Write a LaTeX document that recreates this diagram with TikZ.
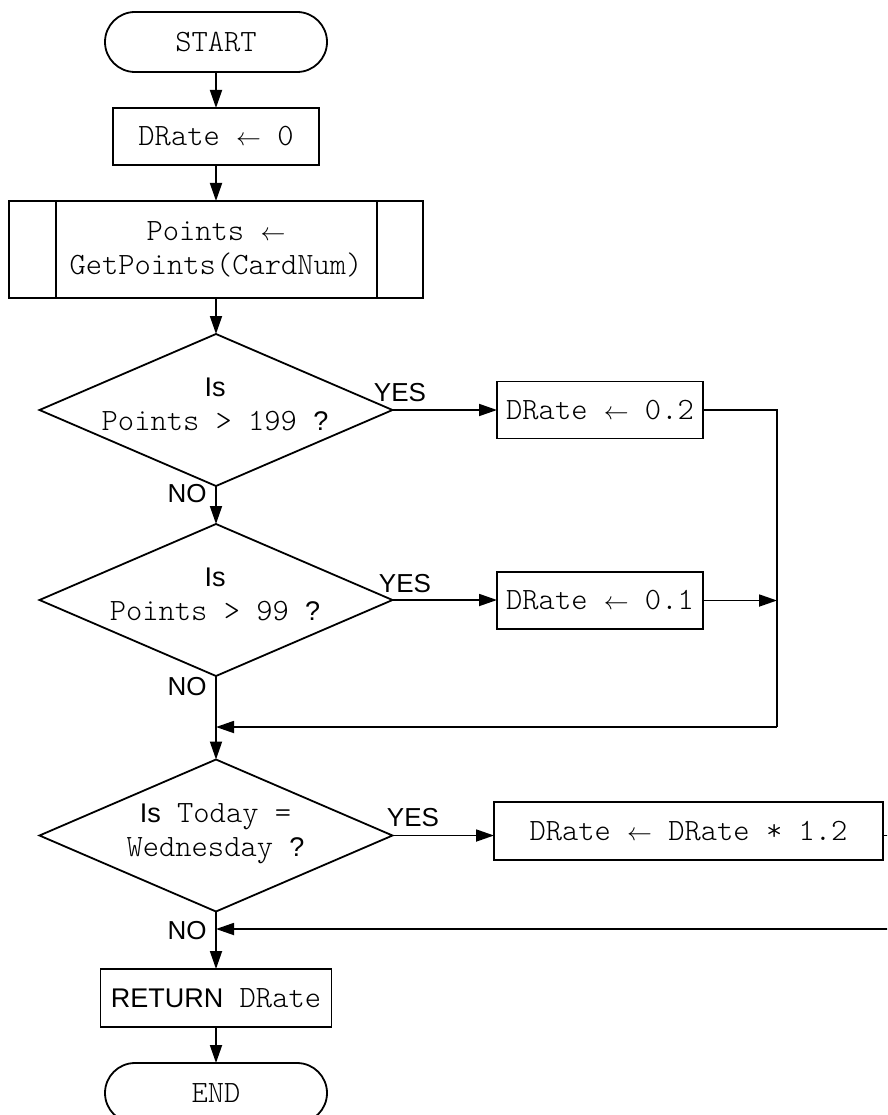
\documentclass[tikz,border=0pt]{standalone}
\usepackage{fontspec}
\setsansfont{Liberation Sans}
\setmonofont{lmmonolt10-regular.otf}
\usetikzlibrary{shapes.geometric,arrows.meta}
\newcommand\SF[1]{{\fontsize{27}{34}\selectfont\sffamily #1}}
\newcommand\LA{{\fontsize{28}{34}\selectfont$\leftarrow$}}
\tikzset{
  every node/.style={outer sep=0pt},
  terminal/.style={draw, rectangle, rounded corners=30pt, minimum width=222pt, minimum height=60pt, line width=1.8pt, font=\fontsize{31}{34}\selectfont\ttfamily},
  proc/.style={draw, rectangle, minimum height=57pt, line width=1.8pt, inner sep=0pt, font=\fontsize{31}{34}\selectfont\ttfamily},
  decision/.style={draw, diamond, minimum width=353pt, minimum height=152pt, inner sep=0pt, line width=1.8pt},
  dtext/.style={align=center, inner sep=0pt, font=\fontsize{31}{34}\selectfont\ttfamily},
  lbl/.style={inner sep=0pt, font=\fontsize{26}{30}\selectfont\sffamily},
  arr/.style={line width=1.8pt, -{Triangle[length=18pt,width=12pt]}},
  ln/.style={line width=1.8pt}
}
\begin{document}
\begin{tikzpicture}[x=1pt,y=-1pt]
\clip (0,0) rectangle (887,1115);
% main column
\node[terminal] (start) at (216,42) {START};
\node[proc, minimum width=206pt] (s0) at (216,136.5) {DRate \LA{} 0};
\node[proc, minimum width=414pt, minimum height=97pt, align=center] (sub) at (216,249.5) {Points \LA\\GetPoints(CardNum)};
\draw[ln] ([xshift=47pt]sub.north west) -- ([xshift=47pt]sub.south west);
\draw[ln] ([xshift=-46pt]sub.north east) -- ([xshift=-46pt]sub.south east);

\node[decision] (d1) at (216,410) {};
\node[dtext] (d1t) at (215,404) {\SF{Is}\\Points > 199 \SF{?}};
\node[decision] (d2) at (216,600) {};
\node[dtext] (d2t) at (215,594) {\SF{Is}\\Points > 99 \SF{?}};
\node[decision] (d3) at (216,835.5) {};
\node[dtext] (d3t) at (215.5,834) {\SF{Is} Today =\\Wednesday \SF{?}};

\node[proc, minimum width=231pt, minimum height=58pt] (ret) at (216,998) {\SF{RETURN} DRate};
\node[terminal] (endn) at (216,1093) {END};

% right column
\node[proc, minimum width=206pt] (b1) at (600,410) {DRate \LA{} 0.2};
\node[proc, minimum width=206pt] (b2) at (600,600.5) {DRate \LA{} 0.1};
\node[proc, minimum width=389pt, minimum height=58pt] (b3) at (688.5,831) {DRate \LA{} DRate * 1.2};

% connector points
\coordinate (j1) at (777,410);
\coordinate (j2) at (777,727);
\coordinate (e1) at (892,835.5);
\coordinate (e2) at (892,929);

% main flow
\draw[arr] (start) -- (s0);
\draw[arr] (s0) -- (sub);
\draw[arr] (sub) -- (d1);
\draw[arr] (d1) -- (d2);
\draw[arr] (d2) -- (d3);
\draw[arr] (d3) -- (ret);
\draw[arr] (ret) -- (endn);

% yes branches
\draw[arr] (d1.east) -- (d1.east -| b1.west);
\draw[arr] (d2.east) -- (d2.east -| b2.west);
\draw[arr] (d3.east) -- (d3.east -| b3.west);

% merges
\draw[ln] (b1.east) -- (j1) -- (j2);
\draw[arr] (j2) -- (j2 -| d2.south);
\draw[arr] (b2.east) -- (b2.east -| j1);
\draw[ln] (d3.east -| b3.east) -- (e1);
\draw[arr] (e2) -- (e2 -| d3.south);

% labels
\node[lbl] (y1) at (400,393) {YES};
\node[lbl] (n1) at (187,494) {NO};
\node[lbl] (y2) at (405,584) {YES};
\node[lbl] (n2) at (187,687) {NO};
\node[lbl] (y3) at (413,818) {YES};
\node[lbl] (n3) at (187,931) {NO};
\end{tikzpicture}
\end{document}
